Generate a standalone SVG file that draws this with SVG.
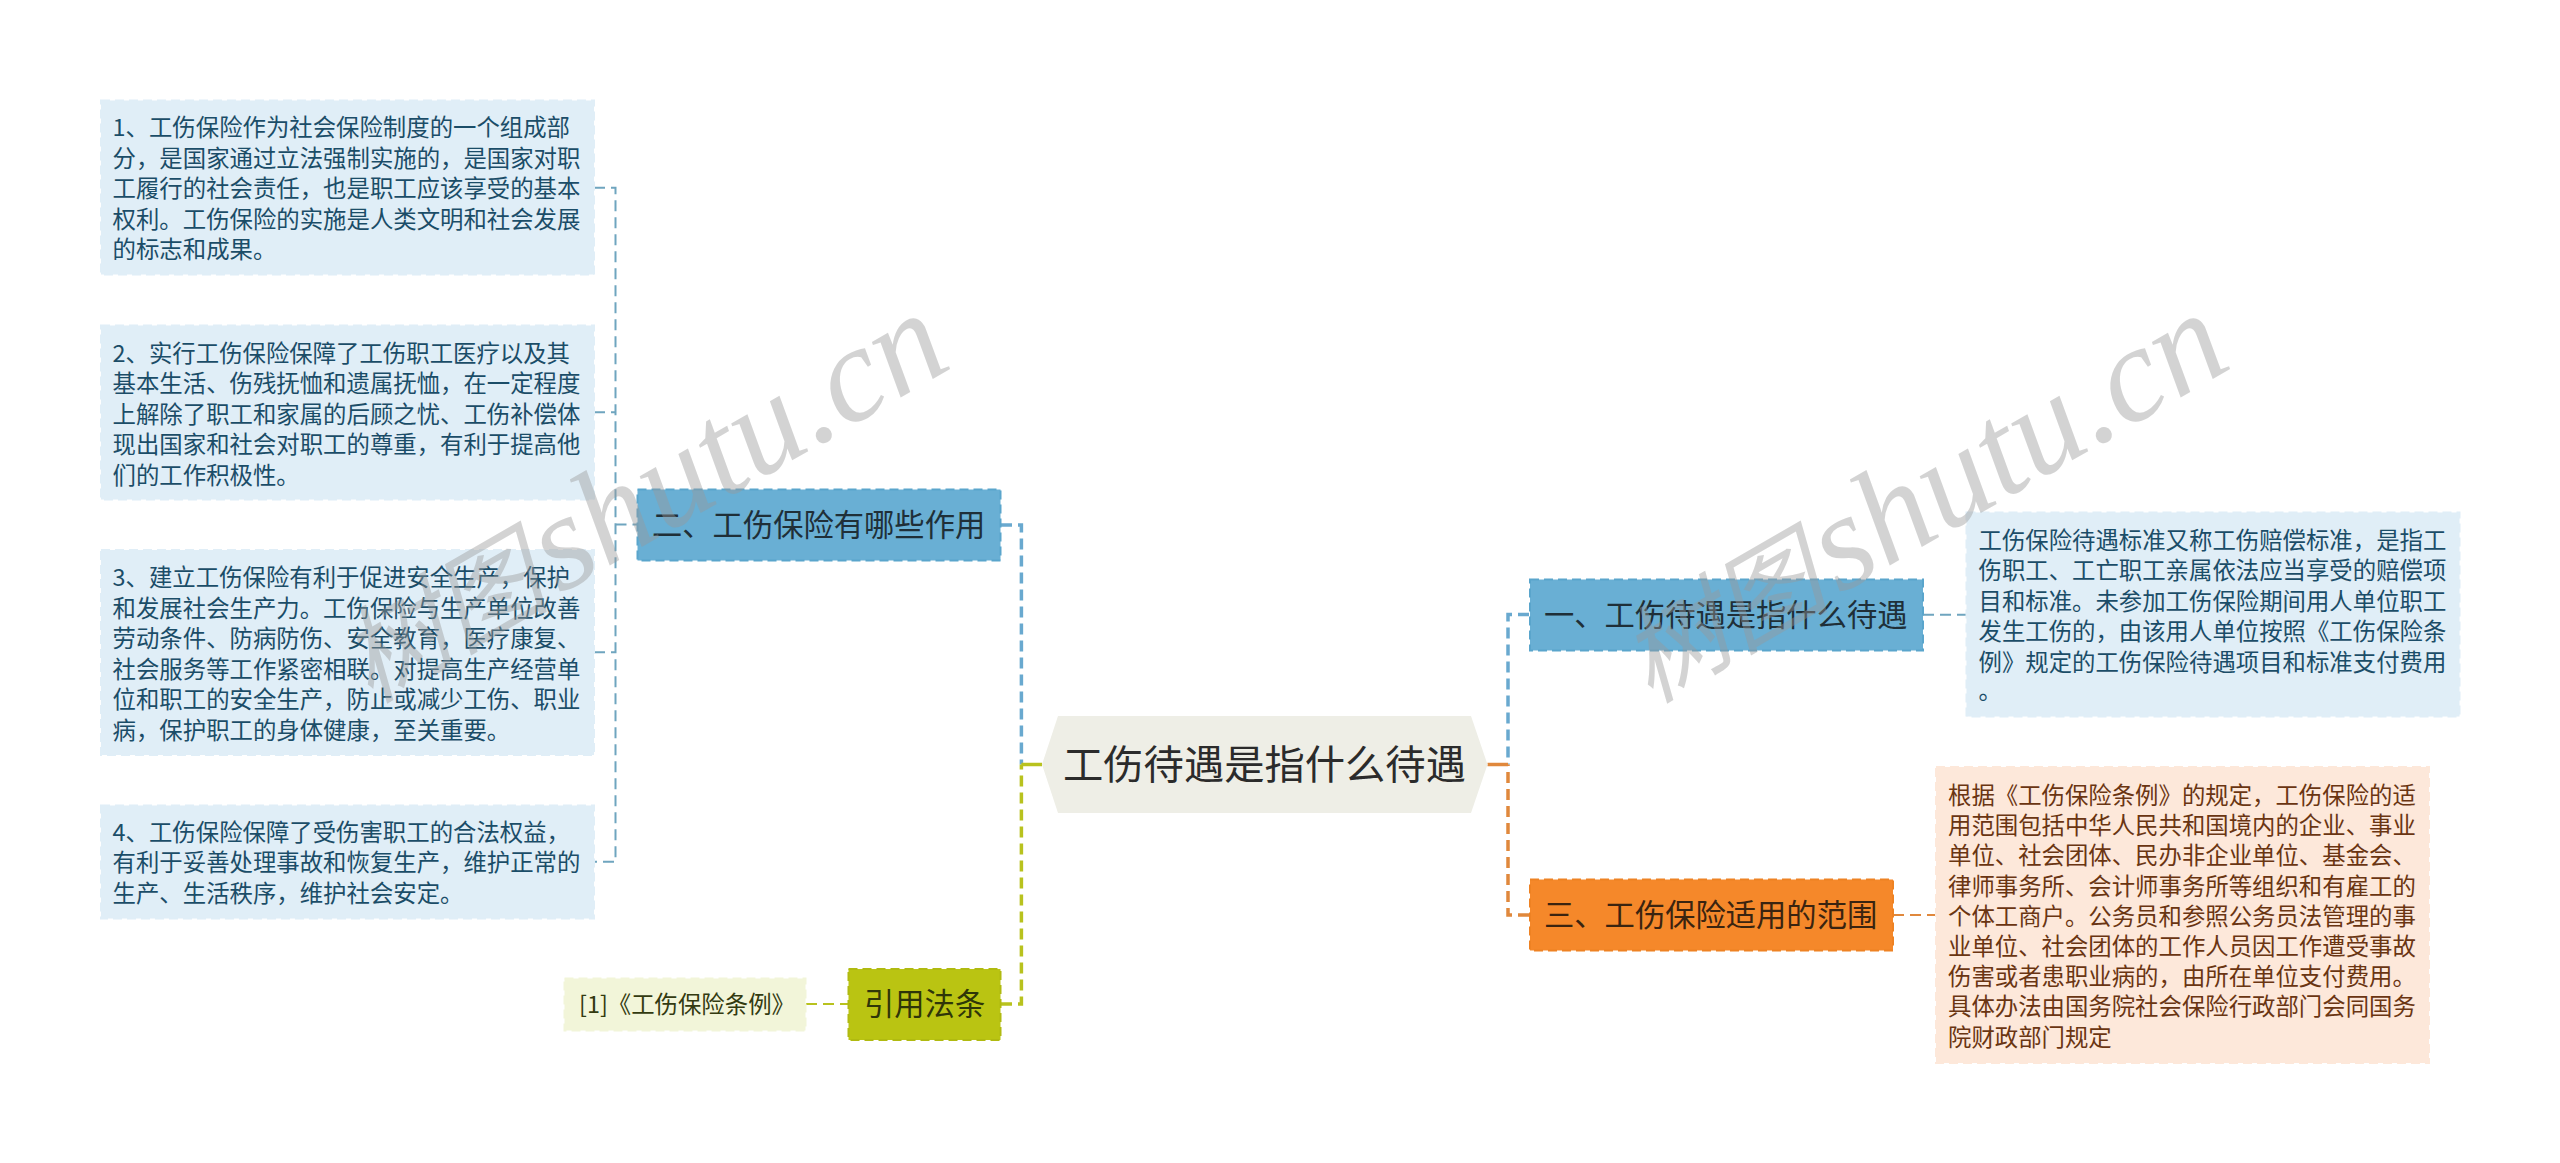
<svg xmlns="http://www.w3.org/2000/svg" width="2560" height="1163" viewBox="0 0 2560 1163">
<style>
text{font-family:"Noto Sans CJK SC","Noto Sans",sans-serif}
.d{font-size:23.4px}
.n{font-size:30.3px;fill:#1f2f38}
.box{stroke-width:2;stroke-dasharray:9 5}
.bd{fill:#e0eef7;stroke:#e0eef7}.bt{fill:#1b4d68}
.od{fill:#fde8da;stroke:#fde8da}.ot{fill:#6a3512}
.gd{fill:#f2f5d9;stroke:#f2f5d9}.gt{fill:#333a10}
.bn{fill:#69afd4;stroke:#5aa5cc}
.on{fill:#f5882a;stroke:#ee8223}
.gn{fill:#bac412;stroke:#b0ba10}
.c{fill:none}
.m{stroke-width:3.5;stroke-dasharray:11 6}
.s{stroke-width:2;stroke-dasharray:11 6}
.sol{stroke-width:3.5}
.cb{stroke:#69a9cf}.cs{stroke:#6fa5bf}.co{stroke:#e0883c}.cg{stroke:#b8c21e}
.wm{font-family:"Liberation Serif","Noto Sans CJK SC",serif;font-style:italic;fill:#999;opacity:.42}
</style>
<rect width="2560" height="1163" fill="#fff"/>
<g id="connectors" class="c">
<path class="s cs" d="M594 187.7H615.5V861.7H594M594 412.3H615.5M594 652.3H615.5M615.5 524.5H637"/>
<path class="m cb" d="M1001 525H1021.4V764.5"/>
<path class="m cg" d="M1001 1004H1021.4V764.5"/>
<path class="sol cg" d="M1021.4 764.5H1042"/>
<path class="s cg" d="M806 1004H848"/>
<path class="m cb" d="M1529 614.5H1508V764.5"/>
<path class="m co" d="M1529 915H1508V764.5"/>
<path class="sol co" d="M1487.5 764.5H1508"/>
<path class="s cs" d="M1923 614.7H1966"/>
<path class="s co" d="M1893 915H1936"/>
</g>
<g id="root"><polygon points="1042,764.5 1058,716 1471,716 1487.5,764.5 1471,813 1058,813" fill="#eeeee6"/>
<text x="1063" y="779" font-size="40.3" fill="#2b2b2b">工伤待遇是指什么待遇</text></g>
<g id="b2"><rect class="box bn" x="637.5" y="489.5" width="363" height="71"/><text class="n" x="652" y="536">二、工伤保险有哪些作用</text></g>
<g id="b1"><rect class="box bn" x="1530" y="579.5" width="393" height="71"/><text class="n" x="1544" y="625.5">一、工伤待遇是指什么待遇</text></g>
<g id="b3"><rect class="box on" x="1530" y="879.5" width="363" height="71"/><text class="n" x="1544" y="926" style="fill:#3a2410">三、工伤保险适用的范围</text></g>
<g id="b4"><rect class="box gn" x="848.5" y="969" width="152" height="71"/><text class="n" x="864" y="1015" style="fill:#2f3608">引用法条</text></g>
<g id="l1"><rect class="box bd" x="101" y="100.5" width="493" height="174"/>
<text class="d bt"><tspan x="112.6" y="136">1、工伤保险作为社会保险制度的一个组成部</tspan><tspan x="112.6" y="166.6">分，是国家通过立法强制实施的，是国家对职</tspan><tspan x="112.6" y="197.2">工履行的社会责任，也是职工应该享受的基本</tspan><tspan x="112.6" y="227.8">权利。工伤保险的实施是人类文明和社会发展</tspan><tspan x="112.6" y="258.4">的标志和成果。</tspan></text></g>
<g id="l2"><rect class="box bd" x="101" y="325.5" width="493" height="174"/>
<text class="d bt"><tspan x="112.6" y="361.5">2、实行工伤保险保障了工伤职工医疗以及其</tspan><tspan x="112.6" y="392.1">基本生活、伤残抚恤和遗属抚恤，在一定程度</tspan><tspan x="112.6" y="422.7">上解除了职工和家属的后顾之忧、工伤补偿体</tspan><tspan x="112.6" y="453.3">现出国家和社会对职工的尊重，有利于提高他</tspan><tspan x="112.6" y="483.9">们的工作积极性。</tspan></text></g>
<g id="l3"><rect class="box bd" x="101" y="550" width="493" height="205"/>
<text class="d bt"><tspan x="112.6" y="586">3、建立工伤保险有利于促进安全生产，保护</tspan><tspan x="112.6" y="616.6">和发展社会生产力。工伤保险与生产单位改善</tspan><tspan x="112.6" y="647.2">劳动条件、防病防伤、安全教育，医疗康复、</tspan><tspan x="112.6" y="677.8">社会服务等工作紧密相联。对提高生产经营单</tspan><tspan x="112.6" y="708.4">位和职工的安全生产，防止或减少工伤、职业</tspan><tspan x="112.6" y="739">病，保护职工的身体健康，至关重要。</tspan></text></g>
<g id="l4"><rect class="box bd" x="101" y="805.5" width="493" height="113"/>
<text class="d bt"><tspan x="112.6" y="840.5">4、工伤保险保障了受伤害职工的合法权益，</tspan><tspan x="112.6" y="871.1">有利于妥善处理事故和恢复生产，维护正常的</tspan><tspan x="112.6" y="901.7">生产、生活秩序，维护社会安定。</tspan></text></g>
<g id="ref"><rect class="box gd" x="564.5" y="978.5" width="241" height="52"/><text class="d gt" x="579" y="1012.5">[1]《工伤保险条例》</text></g>
<g id="r1"><rect class="box bd" x="1966.5" y="512.5" width="493" height="204"/>
<text class="d bt"><tspan x="1978.5" y="549">工伤保险待遇标准又称工伤赔偿标准，是指工</tspan><tspan x="1978.5" y="579.4">伤职工、工亡职工亲属依法应当享受的赔偿项</tspan><tspan x="1978.5" y="609.8">目和标准。未参加工伤保险期间用人单位职工</tspan><tspan x="1978.5" y="640.2">发生工伤的，由该用人单位按照《工伤保险条</tspan><tspan x="1978.5" y="670.6">例》规定的工伤保险待遇项目和标准支付费用</tspan><tspan x="1978.5" y="699">。</tspan></text></g>
<g id="r3"><rect class="box od" x="1936" y="767" width="493" height="296"/>
<text class="d ot"><tspan x="1948" y="804">根据《工伤保险条例》的规定，工伤保险的适</tspan><tspan x="1948" y="834.2">用范围包括中华人民共和国境内的企业、事业</tspan><tspan x="1948" y="864.4">单位、社会团体、民办非企业单位、基金会、</tspan><tspan x="1948" y="894.6">律师事务所、会计师事务所等组织和有雇工的</tspan><tspan x="1948" y="924.8">个体工商户。公务员和参照公务员法管理的事</tspan><tspan x="1948" y="955">业单位、社会团体的工作人员因工作遭受事故</tspan><tspan x="1948" y="985.2">伤害或者患职业病的，由所在单位支付费用。</tspan><tspan x="1948" y="1015.4">具体办法由国务院社会保险行政部门会同国务</tspan><tspan x="1948" y="1045.6">院财政部门规定</tspan></text></g>
<g id="watermarks">
<text class="wm" transform="translate(370 704) rotate(-30)"><tspan font-size="105">树图</tspan><tspan font-size="136" dx="9">shutu.cn</tspan></text>
<text class="wm" transform="translate(1650 704) rotate(-30)"><tspan font-size="105">树图</tspan><tspan font-size="136" dx="9">shutu.cn</tspan></text>
</g>
</svg>
